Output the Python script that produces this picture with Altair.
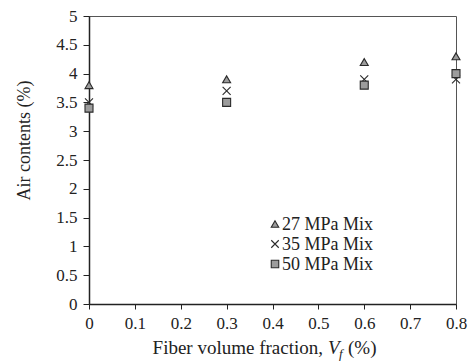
import altair as alt
import pandas as pd

# Fiber volume fraction (%) and measured air content (%) for each mix
fractions = [0, 0.3, 0.6, 0.8]
mix_27 = [3.8, 3.9, 4.2, 4.3]
mix_35 = [3.5, 3.7, 3.9, 3.9]
mix_50 = [3.4, 3.5, 3.8, 4.0]
series_names = ["27 MPa Mix", "35 MPa Mix", "50 MPa Mix"]

x_ticks = [0, 0.1, 0.2, 0.3, 0.4, 0.5, 0.6, 0.7, 0.8]
y_ticks = [0, 0.5, 1, 1.5, 2, 2.5, 3, 3.5, 4, 4.5, 5]

rows = []
for name, vals in zip(series_names, [mix_27, mix_35, mix_50]):
    for f, v in zip(fractions, vals):
        rows.append({"Vf": f, "air": v, "mix": name})
df = pd.DataFrame(rows)

FONT = "Liberation Serif"
INK = "#222222"
MARK_FILL = "#9c9c9c"
MARK_STROKE = "#2a2a2a"
marker_shapes = ["triangle-up", "M-1,-1L1,1M-1,1L1,-1", "square"]
shape_scale = alt.Scale(domain=series_names, range=marker_shapes)

W, H = 367, 288

points = alt.Chart(df).mark_point(
    filled=False, fill=MARK_FILL, stroke=MARK_STROKE, strokeWidth=1.1,
    size=64, opacity=1, fillOpacity=1, strokeOpacity=1,
).encode(
    x=alt.X("Vf:Q",
            scale=alt.Scale(domain=[0, 0.8], nice=False, zero=False),
            axis=alt.Axis(values=x_ticks, format="~g", title=None,
                          grid=False, tickSize=5, labelPadding=6,
                          labelFlush=False)),
    y=alt.Y("air:Q",
            scale=alt.Scale(domain=[0, 5], nice=False),
            axis=alt.Axis(values=y_ticks, format="~g",
                          title="Air contents (%)",
                          titleFontWeight="normal", titleFontSize=18,
                          titleFont=FONT, titleColor=INK,
                          titleX=-65, titleY=124, titleBaseline="middle",
                          grid=False, tickSize=6, labelPadding=6,
                          labelFlush=False)),
    shape=alt.Shape("mix:N", scale=shape_scale, legend=None),
)

# legend box drawn inside the plot: one row per mix
legend_df = pd.DataFrame({
    "mix": series_names,
    "row_y": [208, 228, 248],
})
legend_symbols = alt.Chart(legend_df).mark_point(
    filled=False, fill=MARK_FILL, stroke=MARK_STROKE, strokeWidth=1.1,
    size=56, opacity=1, fillOpacity=1,
).encode(
    x=alt.value(186),
    y=alt.Y("row_y:Q", scale=None),
    shape=alt.Shape("mix:N", scale=shape_scale, legend=None),
)
legend_labels = alt.Chart(legend_df).mark_text(
    font=FONT, fontSize=18, color=INK, align="left", baseline="middle", dy=1,
).encode(
    x=alt.value(193),
    y=alt.Y("row_y:Q", scale=None),
    text="mix:N",
)

# x-axis title with italic, subscripted V_f
title_base = alt.Chart(pd.DataFrame({"k": [0]}))
y_base = H + 50
v_left = 239
t1 = title_base.mark_text(text="Fiber volume fraction,", font=FONT, fontSize=19,
                          align="right", baseline="alphabetic", color=INK).encode(
    x=alt.value(v_left - 5), y=alt.value(y_base))
t2 = title_base.mark_text(text="V", font=FONT, fontSize=19, fontStyle="italic",
                          align="left", baseline="alphabetic", color=INK).encode(
    x=alt.value(v_left), y=alt.value(y_base))
t3 = title_base.mark_text(text="f", font=FONT, fontSize=13, fontStyle="italic",
                          align="left", baseline="alphabetic", color=INK).encode(
    x=alt.value(v_left + 11), y=alt.value(y_base + 4))
t4 = title_base.mark_text(text="(%)", font=FONT, fontSize=19,
                          align="left", baseline="alphabetic", color=INK).encode(
    x=alt.value(v_left + 20), y=alt.value(y_base))

chart = alt.layer(points, legend_symbols, legend_labels, t1, t2, t3, t4).properties(
    width=W, height=H,
    autosize=alt.AutoSizeParams(type="none"),
    padding={"left": 89, "top": 16, "right": 15, "bottom": 59},
    background="white",
).configure_view(
    stroke="#555555", strokeWidth=1,
).configure_axis(
    labelFont=FONT, labelFontSize=17, labelColor=INK,
    domainColor=INK, domainWidth=1.5, tickColor=INK, tickWidth=1,
)

chart.save("out.html", embed_options={"renderer": "svg", "actions": False})
